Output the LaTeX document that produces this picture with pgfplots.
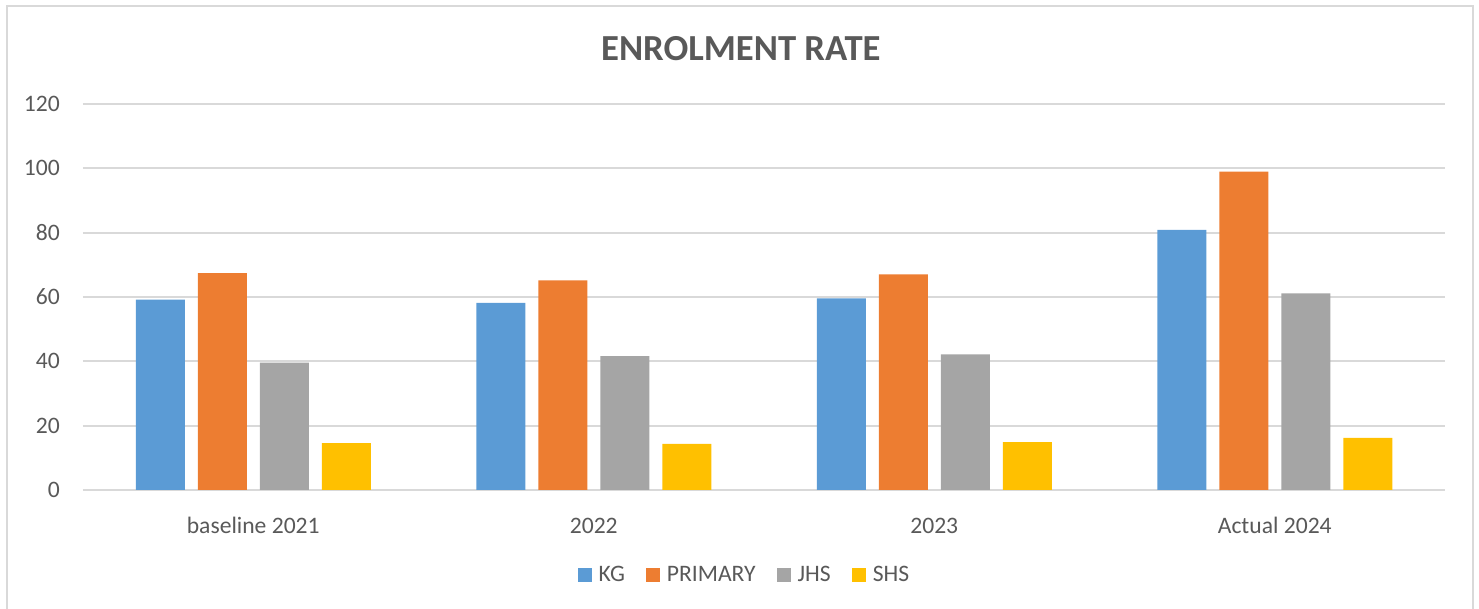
\documentclass[border=0pt]{standalone}
\usepackage{fontspec}
\setmainfont{Carlito}
\usepackage{pgfplots}
\pgfplotsset{compat=1.18}
\definecolor{kg}{HTML}{5B9BD5}
\definecolor{primary}{HTML}{ED7D31}
\definecolor{jhs}{HTML}{A5A5A5}
\definecolor{shs}{HTML}{FFC000}
\definecolor{txt}{HTML}{595959}
\definecolor{gridc}{HTML}{D9D9D9}

\begin{document}
\begin{tikzpicture}
  \begin{axis}[
    scale only axis,
    width=1362pt, height=386pt,
    xmin=-0.5, xmax=3.5, ymin=0, ymax=120,
    ybar=0pt, bar width=49pt,
    xtick={0,1,2,3},
    xticklabels={baseline 2021,2022,2023,Actual 2024},
    ytick={0,20,...,120},
    ymajorgrids,
    major grid style={gridc, line width=2pt},
    axis line style={draw=none},
    tick style={draw=none},
    /pgf/number format/assume math mode=true,
    ticklabel style={font=\fontsize{23.6}{28}\selectfont, text=txt},
    yticklabel style={anchor=east, inner sep=0pt, xshift=-23pt},
    xticklabel style={anchor=base, inner sep=0pt, yshift=-39pt},
    title={ENROLMENT RATE},
    title style={at={(0.483,1.127)}, anchor=center, inner sep=0pt,
      font=\fontsize{36.7}{44}\selectfont\bfseries, text=txt},
    legend columns=4,
    legend style={at={(0.486,-0.22)}, anchor=center, draw=none, fill=none,
      font=\fontsize{23.6}{28}\selectfont, text=txt,
      nodes={inner sep=3pt},
      /tikz/every even column/.append style={column sep=18pt}},
    legend image code/.code={\fill[#1] (0pt,-7pt) rectangle (14pt,7pt);
      \path (18pt,0pt);},
  ]
    % KG
    \addplot[fill=kg, draw=none, bar shift=-93pt] coordinates {
      (0,59.2) (1,58.2) (2,59.6) (3,80.9)
    };
    \addlegendentry{KG}
    % PRIMARY
    \addplot[fill=primary, draw=none, bar shift=-31pt] coordinates {
      (0,67.4) (1,65.2) (2,67.0) (3,99.0)
    };
    \addlegendentry{PRIMARY}
    % JHS
    \addplot[fill=jhs, draw=none, bar shift=31pt] coordinates {
      (0,39.6) (1,41.6) (2,42.2) (3,61.1)
    };
    \addlegendentry{JHS}
    % SHS
    \addplot[fill=shs, draw=none, bar shift=93pt] coordinates {
      (0,14.6) (1,14.3) (2,14.9) (3,16.2)
    };
    \addlegendentry{SHS}
  \end{axis}
  % chart frame
  \draw[gridc, line width=2pt] (-76pt,-140pt) -- (-76pt,484pt) -- (1390pt,484pt) -- (1390pt,-140pt);
  \pgfresetboundingbox
  \path (-83pt,-119pt) rectangle (1396pt,490pt);
\end{tikzpicture}
\end{document}
